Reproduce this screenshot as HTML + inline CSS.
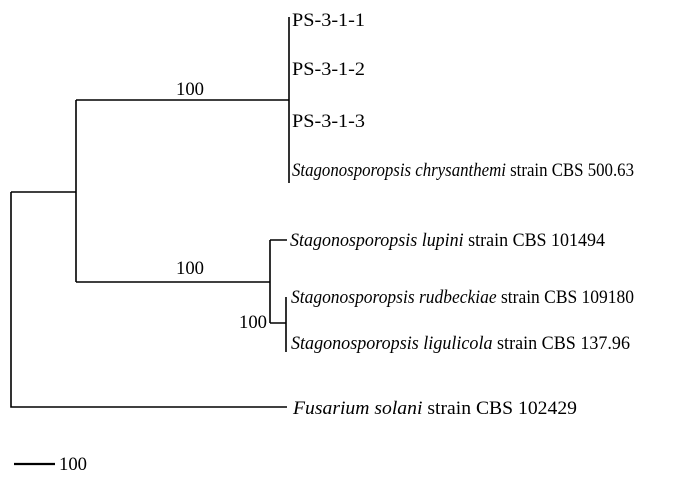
<!DOCTYPE html>
<html><head><style>html,body{margin:0;padding:0;background:#fff;}svg{display:block}</style></head>
<body>
<svg width="700" height="481" viewBox="0 0 700 481" xmlns="http://www.w3.org/2000/svg" style="font-family:'Liberation Serif',serif" font-size="18.5" fill="#000">
<g stroke="#000" stroke-width="1.6" fill="none">
<path d="M11,192 V407 H287"/>
<path d="M11,192 H76 M76,100 V282"/>
<path d="M76,100 H289 M289,17 V183"/>
<path d="M76,282 H270 M270,240 V323 M270,240 H287 M270,323 H286 M286,297 V352"/>
<path d="M14,464 H55" stroke-width="2.2"/>
</g>
<text x="292" y="26" textLength="73" lengthAdjust="spacingAndGlyphs">PS-3-1-1</text>
<text x="292" y="75" textLength="73" lengthAdjust="spacingAndGlyphs">PS-3-1-2</text>
<text x="292" y="127" textLength="73" lengthAdjust="spacingAndGlyphs">PS-3-1-3</text>
<text x="292" y="176" textLength="342" lengthAdjust="spacingAndGlyphs"><tspan font-style="italic">Stagonosporopsis chrysanthemi</tspan> strain CBS 500.63</text>
<text x="290" y="246" textLength="315" lengthAdjust="spacingAndGlyphs"><tspan font-style="italic">Stagonosporopsis lupini</tspan> strain CBS 101494</text>
<text x="291" y="303" textLength="343" lengthAdjust="spacingAndGlyphs"><tspan font-style="italic">Stagonosporopsis rudbeckiae</tspan> strain CBS 109180</text>
<text x="291" y="349" textLength="339" lengthAdjust="spacingAndGlyphs"><tspan font-style="italic">Stagonosporopsis ligulicola</tspan> strain CBS 137.96</text>
<text x="293" y="414" textLength="284" lengthAdjust="spacingAndGlyphs"><tspan font-style="italic">Fusarium solani</tspan> strain CBS 102429</text>
<text x="176" y="95" textLength="28" lengthAdjust="spacingAndGlyphs">100</text>
<text x="176" y="274" textLength="28" lengthAdjust="spacingAndGlyphs">100</text>
<text x="239" y="328" textLength="28" lengthAdjust="spacingAndGlyphs">100</text>
<text x="59" y="470" textLength="28" lengthAdjust="spacingAndGlyphs">100</text>
</svg>
</body></html>
